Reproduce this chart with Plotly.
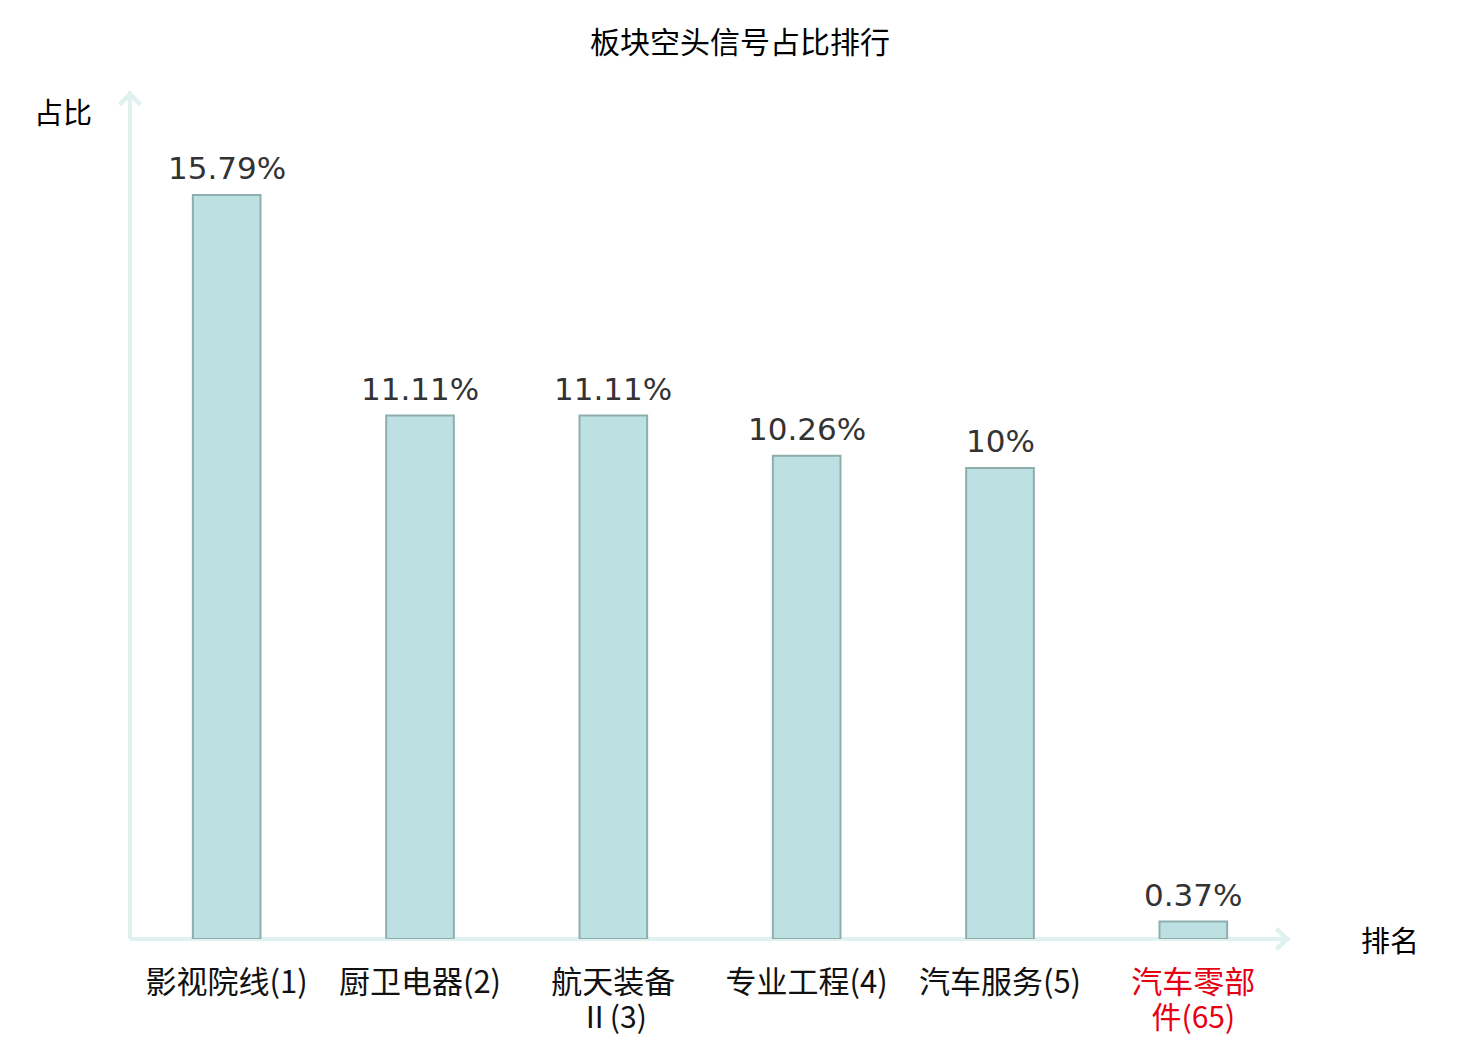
import plotly.graph_objects as go

# data
sectors = ["影视院线(1)", "厨卫电器(2)", "航天装备", "专业工程(4)", "汽车服务(5)", "汽车零部"]
sectors_line2 = ["", "", "Ⅱ(3)", "", "", "件(65)"]
ratios = [15.79, 11.11, 11.11, 10.26, 10, 0.37]
highlight = [False, False, False, False, False, True]


def colour(texts):
    return ["<span style='color:#e60012'>%s</span>" % s if h else s
            for s, h in zip(texts, highlight)]


positions = list(range(len(sectors)))

cjk = "Noto Sans CJK SC"
axis_color = "#dff2ef"

fig = go.Figure()
fig.add_trace(go.Bar(
    x=positions,
    y=ratios,
    width=0.35,
    marker=dict(color="#bde0e3", line=dict(color="#8fadad", width=2)),
    hoverinfo="skip",
))
# invisible trace so the second label row axis is drawn
fig.add_trace(go.Scatter(x=positions, y=[0] * len(positions), xaxis="x2",
                         mode="markers", marker=dict(opacity=0), hoverinfo="skip"))

# value labels above the bars
for pos, val in zip(positions, ratios):
    fig.add_annotation(x=pos, y=val, text="%g%%" % val, showarrow=False,
                       xanchor="center", yanchor="bottom", yshift=7,
                       font=dict(family="DejaVu Sans", size=31, color="#333333"))

# page has an 8px body margin, so the figure is shifted by that much
fig.update_layout(
    width=1480, height=1040,
    margin=dict(l=122, r=198, t=83, b=109),
    paper_bgcolor="white", plot_bgcolor="white",
    showlegend=False,
    title=dict(text="板块空头信号占比排行", x=732 / 1480, xref="container", xanchor="center",
               y=1 - 34 / 1040, yanchor="middle",
               font=dict(family=cjk, size=30, color="#000000")),
    xaxis=dict(range=[-0.5, 5.5], tickmode="array", tickvals=positions,
               ticktext=colour(sectors), showline=False, showgrid=False,
               zeroline=False, ticks="", ticklabelstandoff=22, automargin=False,
               tickfont=dict(family=cjk, size=31, color="#111111")),
    xaxis2=dict(overlaying="x", side="bottom", range=[-0.5, 5.5], tickmode="array",
                tickvals=positions, ticktext=colour(sectors_line2),
                showline=False, showgrid=False, zeroline=False, ticks="",
                ticklabelstandoff=58, automargin=False,
                tickfont=dict(family=cjk, size=30, color="#111111")),
    yaxis=dict(range=[0, 18], showgrid=False, zeroline=False, showline=False,
               showticklabels=False, ticks="", automargin=False),
)

# axis lines with arrows
fig.add_shape(type="line", xref="paper", yref="paper", x0=0, x1=1, y0=0, y1=0,
              line=dict(color=axis_color, width=4), layer="below")
fig.add_shape(type="line", xref="paper", yref="paper", x0=0, x1=0, y0=0, y1=1,
              line=dict(color=axis_color, width=4), layer="below")
fig.add_annotation(xref="paper", yref="paper", x=1, y=0, ax=-30, ay=0, text="",
                   showarrow=True, arrowhead=4, arrowsize=1, arrowwidth=4,
                   arrowcolor=axis_color)
fig.add_annotation(xref="paper", yref="paper", x=0, y=1, ax=0, ay=30, text="",
                   showarrow=True, arrowhead=4, arrowsize=1, arrowwidth=4,
                   arrowcolor=axis_color)

# axis names
fig.add_annotation(xref="paper", yref="paper", x=1 + 100 / 1160, y=0, text="排名",
                   showarrow=False, xanchor="center", yanchor="middle",
                   font=dict(family=cjk, size=29, color="#000000"))
fig.add_annotation(xref="paper", yref="paper", x=-67 / 1160, y=1 - 20 / 848, text="占比",
                   showarrow=False, xanchor="center", yanchor="middle",
                   font=dict(family=cjk, size=29, color="#000000"))

fig.write_html("out.html")
